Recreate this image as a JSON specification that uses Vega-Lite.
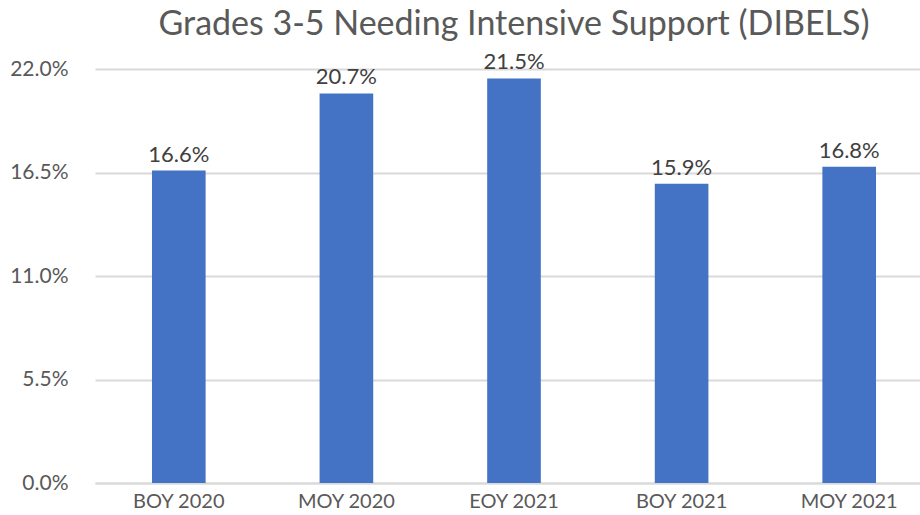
{
  "$schema": "https://vega.github.io/schema/vega-lite/v6.json",
  "autosize": "none",
  "padding": {"left": 95, "top": 69, "right": 0, "bottom": 32},
  "width": 838,
  "height": 414,
  "background": "white",
  "title": {
    "text": "Grades 3-5 Needing Intensive Support (DIBELS)",
    "font": "Lato",
    "fontSize": 34,
    "fontWeight": "normal",
    "color": "#595959",
    "anchor": "middle",
    "frame": "group",
    "offset": 9
  },
  "data": {
    "values": [
      {"period": "BOY 2020", "pct": 0.166},
      {"period": "MOY 2020", "pct": 0.207},
      {"period": "EOY 2021", "pct": 0.215},
      {"period": "BOY 2021", "pct": 0.159},
      {"period": "MOY 2021", "pct": 0.168}
    ]
  },
  "config": {
    "view": {"stroke": null},
    "font": "Lato"
  },
  "encoding": {
    "x": {
      "field": "period",
      "type": "nominal",
      "sort": null,
      "scale": {"paddingInner": 0.68, "paddingOuter": 0.34},
      "axis": {
        "title": null,
        "labelAngle": 0,
        "labelFont": "Lato",
        "labelFontSize": 20,
        "labelColor": "#595959",
        "labelPadding": 8,
        "ticks": false,
        "domainColor": "#D9D9D9",
        "domainWidth": 2,
        "grid": false
      }
    },
    "y": {
      "field": "pct",
      "type": "quantitative",
      "scale": {"domain": [0, 0.22], "nice": false},
      "axis": {
        "title": null,
        "values": [0, 0.055, 0.11, 0.165, 0.22],
        "format": ".1%",
        "labelFont": "Lato",
        "labelFontSize": 21,
        "labelColor": "#595959",
        "labelPadding": 27,
        "ticks": false,
        "domain": false,
        "grid": true,
        "gridColor": "#D9D9D9",
        "gridWidth": 2
      }
    }
  },
  "layer": [
    {"mark": {"type": "bar", "color": "#4472C4"}},
    {
      "mark": {"type": "text", "dy": -9, "baseline": "alphabetic", "font": "Lato", "fontSize": 22, "color": "#404040"},
      "encoding": {
        "text": {"field": "pct", "type": "quantitative", "format": ".1%"}
      }
    }
  ]
}
